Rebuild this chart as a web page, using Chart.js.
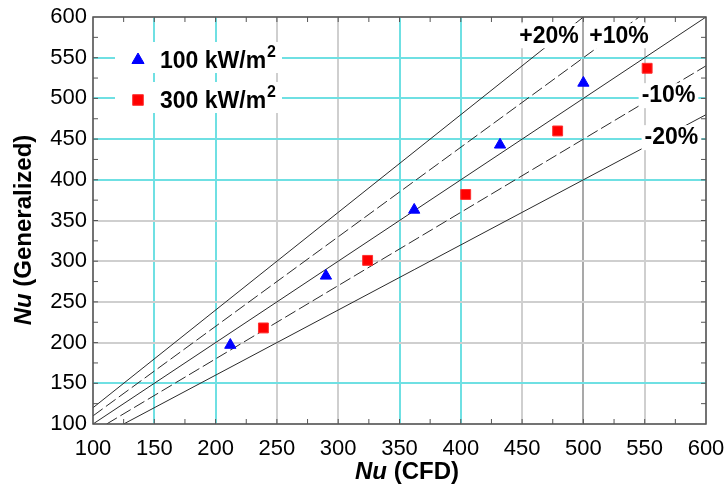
<!DOCTYPE html>
<html><head><meta charset="utf-8">
<script src="https://cdn.jsdelivr.net/npm/chart.js@4/dist/chart.umd.min.js"></script>
<style>html,body{margin:0;padding:0;background:#fff}</style>
</head><body>
<canvas id="c" width="728" height="490"></canvas>
<script>
// ---- data ----
const seriesNames = ['100 kW/m', '300 kW/m'];
const cfd100 = [212, 290, 362, 432, 500];
const gen100 = [197, 282, 363, 443, 519];
const cfd300 = [239, 324, 404, 479, 552];
const gen300 = [218, 301, 382, 460, 537];
const ratios = [1.2, 1.1, 1.0, 0.9, 0.8];
const ratioLabels = ['+20%', '+10%', '', '-10%', '-20%'];
const tickValues = [100, 150, 200, 250, 300, 350, 400, 450, 500, 550, 600];
const axisMin = 100, axisMax = 600;

// ---- styles ----
const FONT = "'Liberation Sans', Arial, Helvetica, sans-serif";
const CYAN = '#6fe0e3', GRAY = '#cfcfcf', DGRAY = '#a9a9a9';
const cyanX = [150, 200, 350, 400];
const cyanY = [150, 400, 450, 500, 550];
const ratioDash = [[], [12, 4], [], [12, 4], []];
const labelPos = [[472, 577.6], [529, 577.6], null, [569.4, 504], [571.8, 452.4]];

Chart.defaults.font.family = FONT;

const ratioSets = ratios.map((r, i) => {
  const x0 = Math.max(axisMin, axisMin / r), x1 = Math.min(axisMax, axisMax / r);
  return {
    type: 'line', label: 'ratio' + i,
    data: [{x: x0, y: r * x0}, {x: x1, y: r * x1}],
    borderColor: '#2a2a2a', borderWidth: 1, borderDash: ratioDash[i],
    pointRadius: 0, fill: false, showLine: true
  };
});

const toPts = (xs, ys) => xs.map((x, i) => ({x, y: ys[i]}));

const overlay = {
  id: 'overlay',
  afterDatasetsDraw(chart) {
    const ctx = chart.ctx, a = chart.chartArea;
    const xs = chart.scales.x, ys = chart.scales.y;
    ctx.save();
    // frame
    ctx.strokeStyle = '#555'; ctx.lineWidth = 1.5;
    ctx.strokeRect(a.left, a.top, a.right - a.left, a.bottom - a.top);
    // inner ticks every 25
    ctx.lineWidth = 1; ctx.strokeStyle = '#555';
    for (let v = axisMin + 25; v < axisMax; v += 25) {
      const px = xs.getPixelForValue(v), py = ys.getPixelForValue(v);
      ctx.beginPath();
      ctx.moveTo(px, a.bottom); ctx.lineTo(px, a.bottom - 5);
      ctx.moveTo(px, a.top); ctx.lineTo(px, a.top + 5);
      ctx.moveTo(a.left, py); ctx.lineTo(a.left + 5, py);
      ctx.moveTo(a.right, py); ctx.lineTo(a.right - 5, py);
      ctx.stroke();
    }
    // ratio labels
    ctx.font = 'bold 23px ' + FONT;
    ctx.textAlign = 'center'; ctx.textBaseline = 'middle';
    ratioLabels.forEach((t, i) => {
      if (!t) return;
      const px = xs.getPixelForValue(labelPos[i][0]), py = ys.getPixelForValue(labelPos[i][1]);
      const w = ctx.measureText(t).width;
      ctx.fillStyle = '#fff';
      ctx.fillRect(px - w / 2 - 3, py - 12, w + 6, 25);
      ctx.fillStyle = '#000';
      ctx.fillText(t, px, py + 1);
    });
    // legend
    const rows = [60, 100];
    [0, 1].forEach(i => {
      const ds = chart.data.datasets[i];
      const cy = rows[i];
      ctx.fillStyle = '#fff';
      ctx.fillRect(115, cy - 18, 167, 31);
      ctx.fillStyle = ds.backgroundColor; ctx.strokeStyle = ds.borderColor; ctx.lineWidth = 1;
      Chart.helpers.drawPoint(ctx, {pointStyle: ds.pointStyle, radius: ds.pointRadius + 0.5, rotation: 0, borderWidth: 1}, 138, cy);
      ctx.fillStyle = '#000'; ctx.textAlign = 'left'; ctx.textBaseline = 'alphabetic';
      ctx.font = 'bold 23px ' + FONT;
      const txt = seriesNames[i];
      ctx.fillText(txt, 160, cy + 8);
      const w = ctx.measureText(txt).width;
      ctx.font = 'bold 16px ' + FONT;
      ctx.fillText('2', 160 + w + 1, cy - 3);
    });
    // axis titles
    ctx.fillStyle = '#000'; ctx.textBaseline = 'alphabetic'; ctx.textAlign = 'left';
    ctx.font = 'italic bold 24px ' + FONT;
    const nuW = ctx.measureText('Nu').width;
    ctx.font = 'bold 24px ' + FONT;
    const restX = ' (CFD)', restXW = ctx.measureText(restX).width;
    let tw = nuW + restXW, sx = 407 - tw / 2;
    ctx.font = 'italic bold 24px ' + FONT; ctx.fillText('Nu', sx, 479);
    ctx.font = 'bold 24px ' + FONT; ctx.fillText(restX, sx + nuW, 479);
    const restY = ' (Generalized)';
    const restYW = ctx.measureText(restY).width;
    tw = nuW + restYW;
    ctx.save();
    ctx.translate(31, 230); ctx.rotate(-Math.PI / 2);
    ctx.font = 'italic bold 24px ' + FONT; ctx.fillText('Nu', -tw / 2, 0);
    ctx.font = 'bold 24px ' + FONT; ctx.fillText(restY, -tw / 2 + nuW, 0);
    ctx.restore();
    ctx.restore();
  }
};

const gridColor = list => c => {
  const v = c.tick ? c.tick.value : null;
  if (list.includes(v)) return CYAN;
  if (list === cyanX && v === 500) return DGRAY;
  return GRAY;
};

new Chart(document.getElementById('c'), {
  type: 'scatter',
  data: {
    datasets: [
      {label: seriesNames[0], data: toPts(cfd100, gen100), pointStyle: 'triangle', pointRadius: 6.5,
       backgroundColor: '#0000ff', borderColor: '#0000ff', borderWidth: 1},
      {label: seriesNames[1], data: toPts(cfd300, gen300), pointStyle: 'rect', pointRadius: 7,
       backgroundColor: '#ff0000', borderColor: '#ff3030', borderWidth: 1},
      ...ratioSets
    ]
  },
  options: {
    responsive: false, animation: false,
    layout: {padding: {top: 17, right: 22, left: 0, bottom: 0}},
    plugins: {legend: {display: false}, tooltip: {enabled: false}},
    scales: {
      x: {
        type: 'linear', min: axisMin, max: axisMax,
        afterBuildTicks: s => { s.ticks = tickValues.map(v => ({value: v})); },
        afterFit: s => { s.height = 66; s.paddingLeft = 0; s.paddingRight = 0; },
        ticks: {font: {size: 22}, color: '#000', padding: 12, maxRotation: 0, autoSkip: false},
        grid: {color: gridColor(cyanX), lineWidth: 2, drawTicks: false},
        border: {display: false}
      },
      y: {
        type: 'linear', min: axisMin, max: axisMax,
        afterBuildTicks: s => { s.ticks = tickValues.map(v => ({value: v})); },
        afterFit: s => { s.width = 93; s.paddingTop = 0; s.paddingBottom = 0; },
        ticks: {font: {size: 22}, color: '#000', padding: 6, autoSkip: false},
        grid: {color: gridColor(cyanY), lineWidth: 2, drawTicks: false},
        border: {display: false}
      }
    }
  },
  plugins: [overlay]
});
</script>
</body></html>
